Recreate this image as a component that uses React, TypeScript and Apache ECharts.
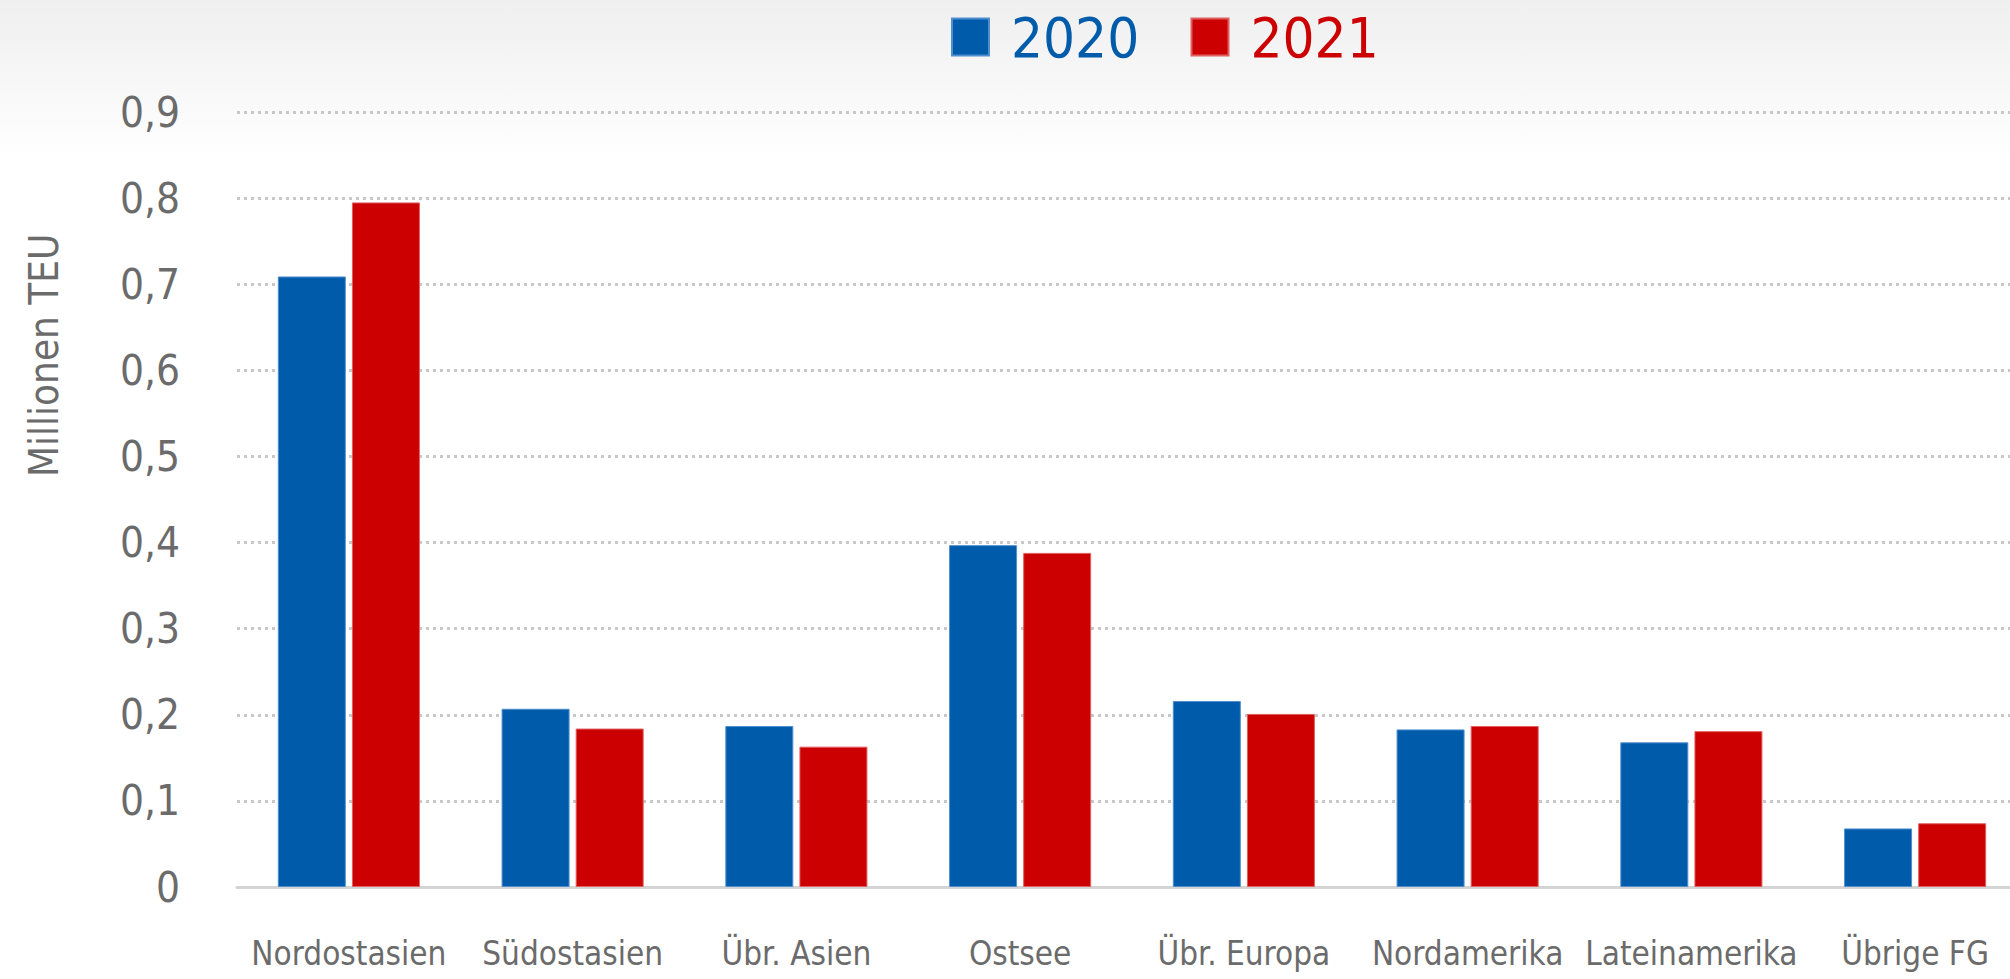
import React, { useEffect, useRef } from "react";
import * as echarts from "echarts";

const categories = [
  "Nordostasien",
  "Südostasien",
  "Übr. Asien",
  "Ostsee",
  "Übr. Europa",
  "Nordamerika",
  "Lateinamerika",
  "Übrige FG",
];
const values2020 = [0.709, 0.207, 0.187, 0.397, 0.216, 0.183, 0.168, 0.068];
const values2021 = [0.795, 0.184, 0.163, 0.388, 0.201, 0.187, 0.181, 0.074];
const seriesNames = ["2020", "2021"];
const yAxisName = "Millionen TEU";

const BLUE = "#005baa";
const RED = "#cc0000";
const GRAY_TEXT = "#6b6b6b";
const FONT = "'DejaVu Sans', sans-serif";

export default function App() {
  const ref = useRef<HTMLDivElement>(null);
  useEffect(() => {
    if (!ref.current) return;
    const chart = echarts.init(ref.current, undefined, { renderer: "svg" });
    chart.setOption({
      animation: false,
      backgroundColor: "#ffffff",
      textStyle: { fontFamily: FONT },
      graphic: [
        {
          type: "rect",
          z: -10,
          shape: { x: 0, y: 0, width: 2010, height: 160 },
          style: {
            fill: new echarts.graphic.LinearGradient(0, 0, 0, 1, [
              { offset: 0, color: "#efefef" },
              { offset: 1, color: "#ffffff" },
            ]),
          },
          silent: true,
        },
        {
          type: "text",
          x: 44,
          y: 477,
          rotation: Math.PI / 2,
          style: {
            text: yAxisName,
            fill: GRAY_TEXT,
            font: `40px ${FONT}`,
            textAlign: "left",
            textVerticalAlign: "middle",
          },
        },
      ],
      legend: {
        left: 946,
        top: 4,
        icon: "rect",
        itemWidth: 37,
        itemHeight: 37,
        itemGap: 37,
        textStyle: { fontSize: 56, fontFamily: FONT, padding: [0, 0, 0, 17] },
        data: [
          { name: seriesNames[0], textStyle: { color: BLUE } },
          { name: seriesNames[1], textStyle: { color: RED } },
        ],
      },
      grid: {
        left: 237,
        right: -17,
        top: 112,
        bottom: 92,
        containLabel: false,
        outerBoundsMode: "none",
      },
      xAxis: {
        type: "category",
        data: categories,
        axisLine: { show: true, lineStyle: { color: "#d4d4d4", width: 3 } },
        axisTick: { show: false },
        axisLabel: {
          color: GRAY_TEXT,
          fontSize: 33,
          fontFamily: FONT,
          margin: 50,
          interval: 0,
        },
      },
      yAxis: {
        type: "value",
        min: 0,
        max: 0.9,
        interval: 0.1,
        axisLine: { show: false },
        axisTick: { show: false },
        axisLabel: {
          color: GRAY_TEXT,
          fontSize: 42,
          fontFamily: FONT,
          margin: 57,
          formatter: (v: number) => (Math.round(v * 10) / 10).toString().replace(".", ","),
        },
        splitLine: {
          show: true,
          lineStyle: { color: "#c8c8c8", width: 3, type: [3, 4] },
        },
      },
      series: [
        {
          name: seriesNames[0],
          type: "bar",
          data: values2020,
          barWidth: 68,
          barGap: "9%",
          itemStyle: { color: BLUE, borderColor: "#4f8fd0", borderWidth: 1 },
        },
        {
          name: seriesNames[1],
          type: "bar",
          data: values2021,
          barWidth: 68,
          barGap: "9%",
          itemStyle: { color: RED, borderColor: "#e06060", borderWidth: 1 },
        },
      ],
    });
    return () => chart.dispose();
  }, []);
  return (
    <>
      <style>{`text { font-stretch: condensed !important; }`}</style>
      <div
        ref={ref}
        style={{ position: "fixed", left: 0, top: 0, width: 2010, height: 979 }}
      />
    </>
  );
}
